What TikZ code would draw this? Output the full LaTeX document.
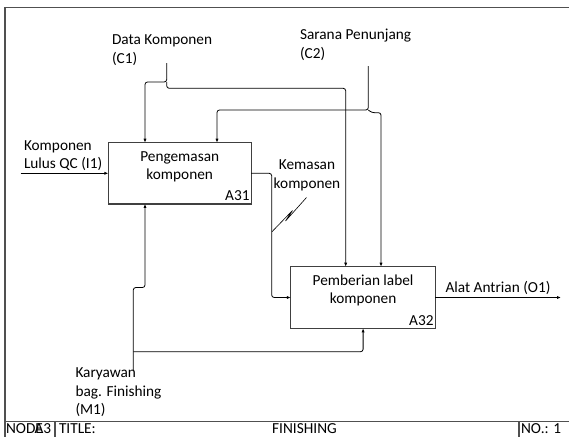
\documentclass[tikz,border=0pt]{standalone}
\usepackage{fontspec}
\setmainfont{Carlito}
\usetikzlibrary{arrows.meta}
\definecolor{boxgray}{HTML}{404040}
\definecolor{framegray}{HTML}{505050}
\begin{document}
\begin{tikzpicture}[x=1pt,y=-1pt,
  every node/.style={font=\fontsize{15.3}{18.5}\selectfont, inner sep=0pt, outer sep=0pt},
  txt/.style={anchor=base west},
  ctxt/.style={anchor=base},
  rtxt/.style={anchor=base east},
  box/.style={draw=boxgray, line width=1.1pt},
  flow/.style={draw=black, line width=0.8pt, rounded corners=2.5pt, -{Latex[length=4pt,width=3.2pt]}},
  wire/.style={draw=black, line width=0.8pt},
  frameline/.style={draw=framegray, line width=1.1pt}
]
\useasboundingbox (0,0) rectangle (569,436);

% frame
\coordinate (ftl) at (5,7.3);
\coordinate (ftr) at (570,7.3);
\coordinate (fbl) at (5,437);
\coordinate (fl1) at (5,421.7);
\coordinate (fr1) at (570,421.7);
\coordinate (d1t) at (55,421.7);
\coordinate (d1b) at (55,437);
\coordinate (d2t) at (519,421.7);
\coordinate (d2b) at (519,437);
\draw[frameline] (ftr) -- (ftl) -- (fbl);
\draw[frameline] (fl1) -- (fr1);
\draw[frameline] (d1t) -- (d1b);
\draw[frameline] (d2t) -- (d2b);

% footer texts
\node[txt] (fnode) at (6,433.8) {NODE};
\node[txt] (fa3) at (34.5,433.8) {A3};
\node[txt] (ftitle) at (59,433.8) {TITLE:};
\node[ctxt] (ffin) at (304.5,433.8) {FINISHING};
\node[txt] (fno) at (521,433.8) {NO.: 1};

% boxes
\node[box, minimum width=142.7pt, minimum height=61.3pt] (A31) at (179.7,173.3) {};
\node[box, minimum width=144.6pt, minimum height=61.6pt] (A32) at (363.1,297.5) {};

\node[ctxt] (t31a) at (179.7,161) {Pengemasan};
\node[ctxt] (t31b) at (179.7,179.5) {komponen};
\node[rtxt] (n31) at (249.5,200.5) {A31};

\node[ctxt] (t32a) at (363.1,285) {Pemberian label};
\node[ctxt] (t32b) at (363.1,303.5) {komponen};
\node[rtxt] (n32) at (433.5,325) {A32};

% labels
\node[txt] (lc1a) at (112,45) {Data Komponen};
\node[txt] (lc1b) at (112,63.5) {(C1)};
\node[txt] (lc2a) at (300,40) {Sarana Penunjang};
\node[txt] (lc2b) at (300,58.5) {(C2)};
\node[txt] (li1a) at (24,150) {Komponen};
\node[txt] (li1b) at (24,168.5) {Lulus QC (I1)};
\node[ctxt] (lka) at (307,169.5) {Kemasan};
\node[ctxt] (lkb) at (307,188) {komponen};
\node[txt] (lo1) at (445.6,292) {Alat Antrian (O1)};
\node[txt] (lm1a) at (75.5,377.7) {Karyawan};
\node[txt] (lm1b) at (75.5,396.2) {bag. Finishing};
\node[txt] (lm1c) at (75.5,414.7) {(M1)};

% controls
\coordinate (c1) at (166.7,63);
\coordinate (c1j) at (166.7,82);
\draw[flow] (c1) -- (c1j) -| (145,0 |- A31.north);
\draw[flow] (c1j) -- (166.7,88.3) -| (345.7,0 |- A32.north);

\coordinate (c2) at (368.3,66);
\coordinate (c2j) at (368.3,110);
\draw[flow] (c2) -- (c2j) -| (217,0 |- A31.north);
\draw[flow] (c2j) -- (372,112.7) -| (381,0 |- A32.north);

% input
\coordinate (i1) at (20.7,173.3);
\draw[flow] (i1) -- (A31.west);

% A31 -> A32
\draw[flow] (A31.east) -| (271.7,0 |- A32.west) -- (A32.west);

% squiggle
\coordinate (sq1) at (272,231.7);
\coordinate (sq2) at (306.5,197.5);
\draw[wire, line width=0.6pt] (sq1) -- (292.5,210.5) -- (285.5,221) -- (sq2);

% output
\coordinate (o1) at (561,297.5);
\draw[flow] (A32.east) -- (o1);

% mechanism
\coordinate (m1) at (133.3,371);
\coordinate (m1j) at (133.3,351.7);
\draw[flow] (m1) |- (145,287.5) -- (145,0 |- A31.south);
\draw[flow] (m1j) -| (363.1,0 |- A32.south);
\end{tikzpicture}
\end{document}
